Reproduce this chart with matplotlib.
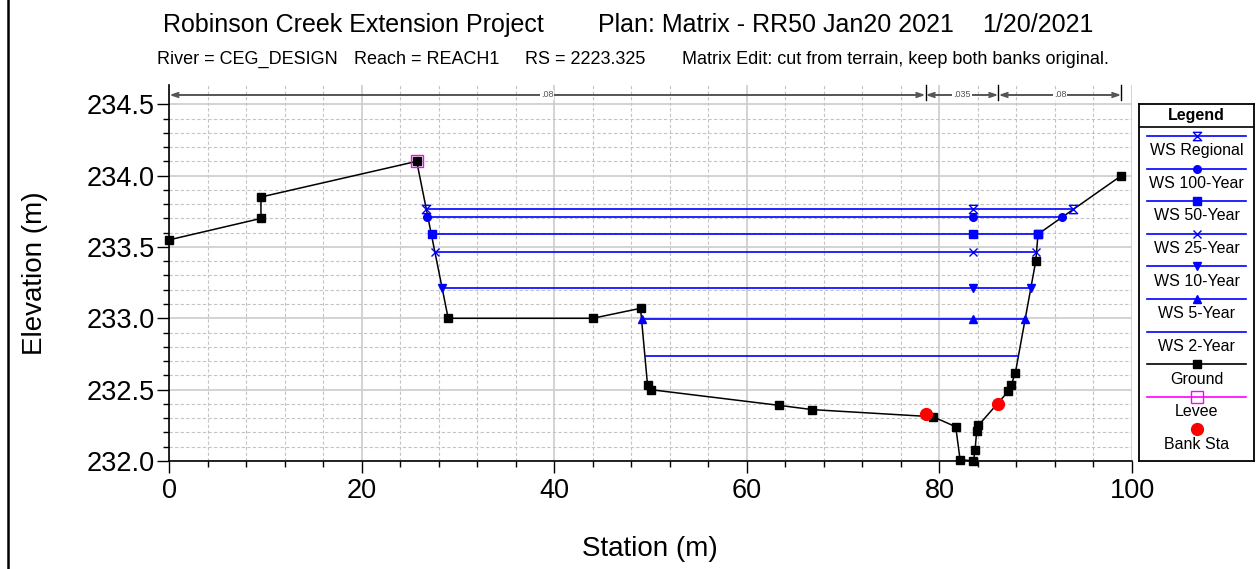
import matplotlib
matplotlib.use('Agg')
import matplotlib.pyplot as plt
from matplotlib.path import Path
from matplotlib.lines import Line2D
from matplotlib.ticker import FormatStrFormatter
import numpy as np

plt.rcParams['font.family'] = ['Liberation Sans', 'DejaVu Sans']

# ---------------- data ----------------
ground_station = [0.0, 9.52, 9.52, 25.7, 28.97, 43.97, 48.95, 49.68, 49.99, 63.34, 66.8,
                  79.34, 81.69, 82.14, 83.53, 83.70, 83.87, 84.05, 87.17, 87.44, 87.89,
                  90.0, 90.24, 98.9]
ground_elev = [233.55, 233.70, 233.85, 234.10, 233.00, 233.00, 233.07, 232.53, 232.50, 232.39, 232.36,
               232.31, 232.24, 232.01, 232.00, 232.08, 232.21, 232.25, 232.49, 232.53, 232.62,
               233.40, 233.59, 234.00]

levee_station = [25.7]
levee_elev = [234.10]

bank_station = [78.55, 86.13]
bank_elev = [232.33, 232.40]

ws_names = ['WS Regional', 'WS 100-Year', 'WS 50-Year', 'WS 25-Year',
            'WS 10-Year', 'WS 5-Year', 'WS 2-Year']
ws_elev = [233.765, 233.71, 233.59, 233.465, 233.215, 232.995, 232.735]
ws_left = [26.65, 26.8, 27.25, 27.6, 28.3, 49.12, 49.47]
ws_right = [93.87, 92.77, 90.24, 90.03, 89.48, 88.93, 88.16]
ws_mid = 83.5

n_values = ['.08', '.035', '.08']
n_breaks = [0.0, 78.55, 86.13, 98.9]

title_parts = ['Robinson Creek Extension Project', 'Plan: Matrix - RR50 Jan20 2021', '1/20/2021']
subtitle_parts = ['River = CEG_DESIGN', 'Reach = REACH1', 'RS = 2223.325',
                  'Matrix Edit: cut from terrain, keep both banks original.']

# ---------------- styles ----------------
hourglass = Path([(-1, 1), (1, 1), (-1, -1), (1, -1), (-1, 1)],
                 [Path.MOVETO, Path.LINETO, Path.LINETO, Path.LINETO, Path.CLOSEPOLY])
ws_markers = [hourglass, 'o', 's', 'x', 'v', '^', None]
ws_msize = [6, 5.5, 6, 6, 6, 6, 0]
BLUE = '#0000ff'

W, H = 1259, 569
fig = plt.figure(figsize=(W / 100, H / 100), dpi=100)

ax_l, ax_r, ax_t, ax_b = 169.3, 1132.0, 85.0, 461.0
ax = fig.add_axes([ax_l / W, 1 - ax_b / H, (ax_r - ax_l) / W, (ax_b - ax_t) / H])
ax.set_xlim(0, 100)
ax.set_ylim(232.0, 234.635)

ax.set_xticks(np.arange(0, 101, 20))
ax.set_xticks(np.arange(0, 101, 4), minor=True)
ax.set_yticks(np.arange(232.0, 234.51, 0.5))
ax.set_yticks(np.arange(232.0, 234.51, 0.1), minor=True)
ax.yaxis.set_major_formatter(FormatStrFormatter('%.1f'))
ax.grid(which='major', color='#cccccc', lw=1.2, ls='-', zorder=0)
ax.grid(which='minor', color='#c4c4c4', lw=0.8, ls=(0, (3, 2)), zorder=0)
ax.set_axisbelow(True)
for s in ['top', 'right']:
    ax.spines[s].set_visible(False)
for s in ['left', 'bottom']:
    ax.spines[s].set_linewidth(1.2)
ax.tick_params(which='major', length=8.6, width=1.0, labelsize=19.5)
ax.tick_params(which='minor', length=4.3, width=1.0)
ax.tick_params(axis='y', pad=2)
ax.tick_params(axis='x', pad=4)

# ground
ax.plot(ground_station, ground_elev, color='black', lw=1.1, marker='s', ms=5.3,
        mfc='black', mec='black', zorder=3, clip_on=False)

# water surfaces
for i in range(len(ws_names)):
    ax.plot([ws_left[i], ws_right[i]], [ws_elev[i], ws_elev[i]], color=BLUE, lw=1.2, zorder=4)
    if ws_markers[i] is not None:
        filled = ws_markers[i] not in ('x',) and ws_markers[i] is not hourglass
        ax.plot([ws_left[i], ws_mid, ws_right[i]], [ws_elev[i]] * 3, ls='none',
                marker=ws_markers[i], ms=ws_msize[i], color=BLUE,
                mfc=BLUE if filled else 'none', mec=BLUE, mew=1.0, zorder=5)

# levee
ax.plot(levee_station, levee_elev, ls='none', marker='s', ms=9, mfc='none',
        mec='#ff00ff', mew=1.0, zorder=6)
# bank stations
ax.plot(bank_station, bank_elev, ls='none', marker='o', ms=8.5, color='#ff0000', zorder=7)

# roughness arrows
y_r = 234.565
for i in range(len(n_values)):
    ax.annotate('', xy=(n_breaks[i + 1], y_r), xytext=(n_breaks[i], y_r),
                arrowprops=dict(arrowstyle='<->,head_length=0.45,head_width=0.15',
                                color='#555555', lw=1.4, shrinkA=0, shrinkB=0),
                annotation_clip=False)
    ax.text((n_breaks[i] + n_breaks[i + 1]) / 2, y_r, n_values[i], fontsize=6.5,
            ha='center', va='center', color='#555555',
            bbox=dict(fc='white', ec='none', pad=0.6), zorder=6)
for b in n_breaks[1:]:
    ax.plot([b, b], [234.53, 234.635], color='black', lw=1.0, clip_on=False)

# axis labels
ax.set_xlabel('Station (m)', fontsize=20)
ax.set_ylabel('Elevation (m)', fontsize=20)
ax.xaxis.set_label_coords((650 - ax_l) / (ax_r - ax_l), (ax_b - 549) / (ax_b - ax_t))
ax.xaxis.label.set_va('center')
ax.yaxis.set_label_coords((35 - ax_l) / (ax_r - ax_l), 0.5)
ax.yaxis.label.set_va('center')

# titles
def ftxt(xpx, ypx, s, size, ha='left'):
    fig.text(xpx / W, 1 - ypx / H, s, fontsize=size, ha=ha, va='baseline')

ftxt(163, 31.7, title_parts[0], 18)
ftxt(598, 31.7, title_parts[1], 18)
ftxt(1094, 31.7, title_parts[2], 18, ha='right')
for xp, s in zip([157, 354, 525], subtitle_parts[:3]):
    ftxt(xp, 64.3, s, 13)
ftxt(1109, 64.3, subtitle_parts[3], 13, ha='right')

# left figure border
fig.add_artist(Line2D([8.3 / W, 8.3 / W], [0, 1], transform=fig.transFigure,
                      color='black', lw=1.8))

# legend
lg_l, lg_r, lg_t, lg_b = 1139.3, 1253.7, 104.3, 461.0
lax = fig.add_axes([lg_l / W, 1 - lg_b / H, (lg_r - lg_l) / W, (lg_b - lg_t) / H])
lax.set_xlim(0, 1)
lax.set_ylim(lg_b, lg_t)
lax.set_xticks([])
lax.set_yticks([])
for s in lax.spines.values():
    s.set_linewidth(1.3)
lax.axhline(127, color='black', lw=1.2)
lax.text(0.5, 115.5, 'Legend', fontsize=11.5, fontweight='bold', ha='center', va='center')

entries = []
for i in range(len(ws_names)):
    filled = ws_markers[i] not in ('x',) and ws_markers[i] is not hourglass
    entries.append(dict(label=ws_names[i], color=BLUE, ls='-', marker=ws_markers[i],
                        ms=ws_msize[i], mfc=BLUE if filled else 'none', mec=BLUE))
entries.append(dict(label='Ground', color='black', ls='-', marker='s', ms=5.3,
                    mfc='black', mec='black'))
entries.append(dict(label='Levee', color='#ff00ff', ls='-', marker='s', ms=9,
                    mfc='none', mec='#ff00ff'))
entries.append(dict(label='Bank Sta', color='#ff0000', ls='none', marker='o', ms=8.5,
                    mfc='#ff0000', mec='#ff0000'))

x0, x1 = (1147.3 - lg_l) / (lg_r - lg_l), (1246 - lg_l) / (lg_r - lg_l)
for i, e in enumerate(entries):
    yl = 136 + i * 32.6
    if e['ls'] != 'none':
        lax.plot([x0, x1], [yl, yl], color=e['color'], lw=1.2)
    if e['marker'] is not None:
        lax.plot([0.5], [yl], ls='none', marker=e['marker'], ms=e['ms'],
                 mfc=e['mfc'], mec=e['mec'], mew=1.0)
    lax.text(0.5, yl + 14.8, e['label'], fontsize=11.5, ha='center', va='center')

fig.savefig('out.png', dpi=100)
